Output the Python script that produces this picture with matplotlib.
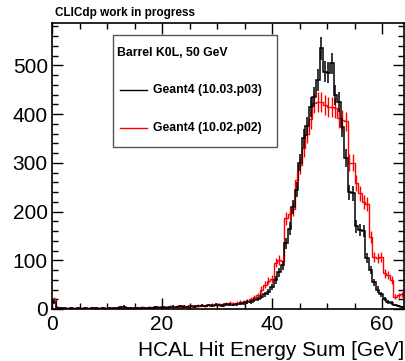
import numpy as np
import matplotlib
matplotlib.use("Agg")
import matplotlib.pyplot as plt
from matplotlib.patches import Rectangle
from matplotlib.lines import Line2D
from matplotlib.ticker import MultipleLocator

# ---- data ----
x_min, x_max, n_bins = 0.0, 64.0, 100
black_label = "Geant4 (10.03.p03)"
red_label = "Geant4 (10.02.p02)"
legend_title = "Barrel K0L, 50 GeV"
header = "CLICdp work in progress"
x_title = "HCAL Hit Energy Sum [GeV]"

black_counts = [15, 3, 2, 2, 1, 2, 1, 2, 1, 2,
                1, 2, 2, 1, 2, 1, 2, 2, 3, 4,
                5, 3, 2, 3, 2, 3, 2, 3, 3, 4,
                3, 4, 3, 4, 5, 4, 6, 5, 4, 6,
                5, 6, 7, 6, 8, 7, 9, 8, 7, 10,
                9, 8, 10, 11, 12, 14, 15, 18, 20, 25,
                30, 35, 45, 60, 75, 90, 135, 165, 210, 245,
                300, 350, 375, 415, 435, 470, 535, 487, 485, 504,
                439, 425, 373, 310, 240, 238, 170, 162, 160, 105,
                80, 55, 40, 30, 20, 15, 12, 8, 6, 4]

red_counts = [20, 4, 3, 2, 3, 2, 3, 2, 2, 3,
              2, 3, 2, 3, 2, 3, 3, 2, 3, 3,
              2, 3, 3, 2, 3, 4, 3, 4, 3, 4,
              4, 3, 4, 5, 4, 5, 5, 6, 5, 6,
              6, 7, 8, 6, 8, 9, 8, 10, 9, 11,
              12, 11, 13, 15, 14, 17, 20, 24, 28, 40,
              50, 58, 62, 95, 100, 98, 186, 195, 205, 265,
              295, 330, 360, 390, 422, 425, 425, 418, 415, 415,
              412, 392, 388, 385, 300, 300, 258, 238, 220, 215,
              148, 107, 105, 107, 73, 70, 60, 25, 28, 30]

plt.rcParams['font.family'] = ['Liberation Sans', 'DejaVu Sans']

fig = plt.figure(figsize=(4.05, 3.61), dpi=100)
ax = fig.add_axes([52/405, 1-309/361, 352/405, 286/361])

edges = np.linspace(x_min, x_max, n_bins + 1)
centers = 0.5 * (edges[:-1] + edges[1:])

for counts, col, lw in [(red_counts, '#ff0000', 1.0), (black_counts, '#000000', 1.1)]:
    c = np.array(counts, dtype=float)
    ax.stairs(c, edges, color=col, lw=lw, baseline=None)
    ax.errorbar(centers, c, yerr=np.sqrt(c), fmt='none', ecolor=col, elinewidth=lw)

ax.set_xlim(x_min, x_max)
ax.set_ylim(0, 587)

ax.xaxis.set_major_locator(MultipleLocator(20))
ax.xaxis.set_minor_locator(MultipleLocator(5))
ax.yaxis.set_major_locator(MultipleLocator(100))
ax.yaxis.set_minor_locator(MultipleLocator(20))
ax.tick_params(which='both', direction='in', top=True, right=True, width=1)
ax.tick_params(which='major', length=8, labelsize=15, pad=3)
ax.tick_params(which='minor', length=4)
ax.tick_params(axis='x', which='major', pad=4)
for s in ax.spines.values():
    s.set_linewidth(1.2)

ax.set_xlabel(x_title, fontsize=15, ha='right', x=1.0, labelpad=5)

fig.text(55/405, 1-13/361, header, fontsize=8.5, fontweight='bold', va='center', ha='left')

# legend box
ax.add_patch(Rectangle((0.173, 0.566), 0.466, 0.392, transform=ax.transAxes,
                       facecolor='white', edgecolor='#555555', lw=1.0, zorder=5))
ax.text(0.185, 0.895, legend_title, transform=ax.transAxes, fontsize=8.8,
        fontweight='bold', va='center', ha='left', zorder=6)
for yy, col, lab in [(0.766, '#000000', black_label), (0.633, '#ff0000', red_label)]:
    ax.add_line(Line2D([0.193, 0.270], [yy, yy], transform=ax.transAxes, color=col, lw=1.0, zorder=6))
    ax.text(0.287, yy, lab, transform=ax.transAxes, fontsize=8.8, fontweight='bold',
            va='center', ha='left', zorder=6)

fig.savefig("out.png", dpi=100)
